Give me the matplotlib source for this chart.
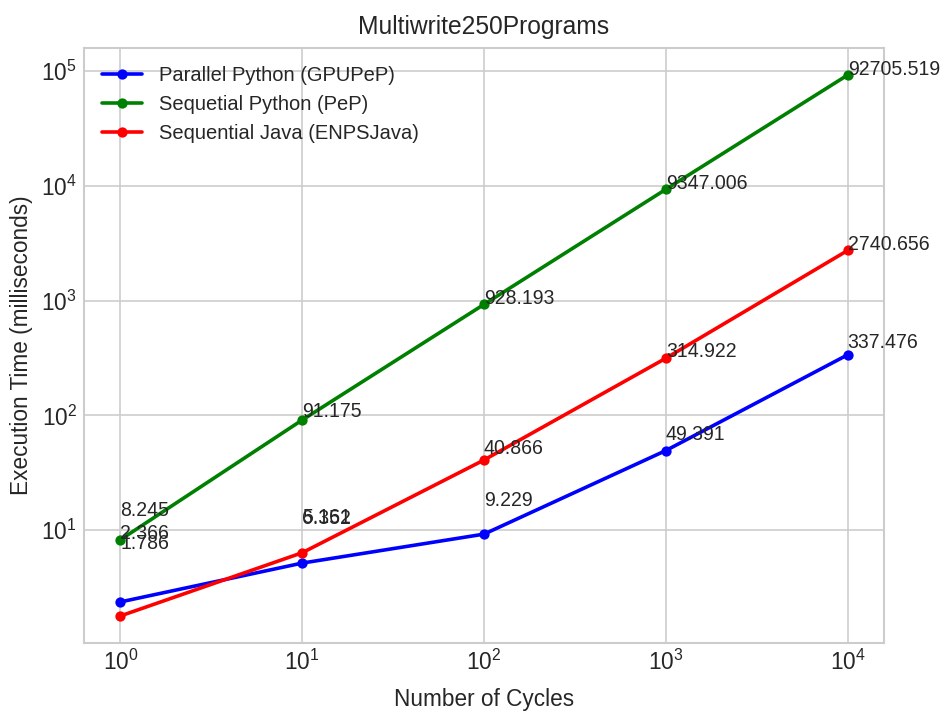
import matplotlib
matplotlib.use("Agg")
import matplotlib.pyplot as plt

plt.style.use("seaborn-v0_8-whitegrid")
plt.rcParams['font.family'] = ['Liberation Sans', 'DejaVu Sans']

cycles = [1, 10, 100, 1000, 10000]
gpu_pep = [2.366, 5.161, 9.229, 49.391, 337.476]
seq_pep = [8.245, 91.175, 928.193, 9347.006, 92705.519]
seq_java = [1.786, 6.352, 40.866, 314.922, 2740.656]

labels = ["Parallel Python (GPUPeP)", "Sequetial Python (PeP)", "Sequential Java (ENPSJava)"]
colors = ["b", "g", "r"]

fig, ax = plt.subplots(figsize=(945 / 148, 711 / 148), dpi=148)
fig.subplots_adjust(left=84 / 945, right=884 / 945, top=1 - 48 / 711, bottom=1 - 643 / 711)

series = [gpu_pep, seq_pep, seq_java]
for vals, lab, col in zip(series, labels, colors):
    ax.plot(cycles, vals, "o-", color=col, label=lab, linewidth=1.75, markersize=4)

# value labels, nudged up a bit (extra lift for the GPU series)
for i, vals in enumerate(series):
    lift = 3 if i == 0 else 0
    for x, y in zip(cycles, vals):
        ax.annotate(str(y), (x, y + 5), xytext=(0, lift), textcoords="offset points",
                    fontsize=9.5, color="#262626", annotation_clip=False)

ax.set_xscale("log")
ax.set_yscale("log")
ax.set_title("Multiwrite250Programs", fontsize=12, pad=7)
ax.set_xlabel("Number of Cycles", fontsize=11, labelpad=6)
ax.set_ylabel("Execution Time (milliseconds)", fontsize=11, labelpad=4)
ax.tick_params(labelsize=11)
ax.legend(loc="upper left", fontsize=9.8)

plt.savefig("out.png", dpi=148)
